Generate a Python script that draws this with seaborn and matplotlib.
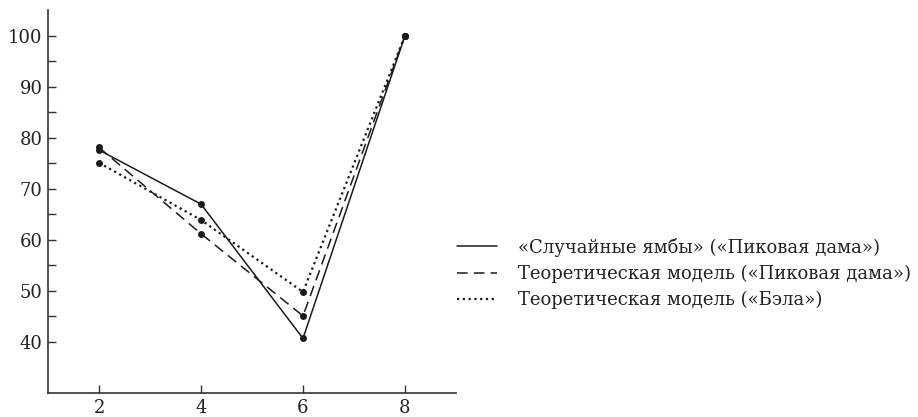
import matplotlib
matplotlib.use("Agg")
import matplotlib.pyplot as plt
from matplotlib.lines import Line2D
import seaborn as sns
import pandas as pd

sns.set_theme(style="ticks")
plt.rcParams["font.family"] = ["DejaVu Serif"]

positions = [2, 4, 6, 8]
random_iambs = [77.6, 67.0, 40.7, 100.0]
model_queen = [78.1, 61.2, 45.1, 100.0]
model_bela = [75.1, 63.9, 49.8, 100.0]

series_labels = [
    "«Случайные ямбы» («Пиковая дама»)",
    "Теоретическая модель («Пиковая дама»)",
    "Теоретическая модель («Бэла»)",
]
y_ticks = [40, 50, 60, 70, 80, 90, 100]
y_minor = [45, 55, 65, 75, 85, 95]

ink = "#1a1a1a"
fig = plt.figure(figsize=(9.18, 4.17), dpi=100)
ax = fig.add_axes([0.0523, 0.0576, 0.4444, 0.918])

styles = ["-", (0, (7, 4)), (0, (1, 1.6))]
widths = [1.1, 1.1, 1.6]
for vals, ls, lw in zip([random_iambs, model_queen, model_bela], styles, widths):
    df = pd.DataFrame({"x": positions, "y": vals})
    sns.lineplot(data=df, x="x", y="y", ax=ax, color=ink, linestyle=ls,
                 linewidth=lw, marker="o", markersize=5, markeredgewidth=0)

ax.set_xlim(1, 9)
ax.set_ylim(30, 105)
ax.set_xticks(positions)
ax.set_yticks(y_ticks)
ax.set_yticks(y_minor, minor=True)
ax.set_xlabel("")
ax.set_ylabel("")
for s in ["top", "right"]:
    ax.spines[s].set_visible(False)
for s in ["left", "bottom"]:
    ax.spines[s].set_color("#333333")
    ax.spines[s].set_linewidth(1.2)
ax.tick_params(axis="both", direction="in", length=6, width=1.0, color="#333333",
               labelsize=13, labelcolor="#222222", pad=4)
ax.tick_params(axis="y", which="minor", direction="in", length=6, width=1.0, color="#333333")

# legend keys: line styles only, no markers
handles = [Line2D([], [], color=ink, linestyle=ls, linewidth=lw)
           for ls, lw in zip(styles, widths)]
fig.legend(handles, series_labels, loc="center left", bbox_to_anchor=(0.498, 0.344),
           frameon=False, fontsize=13, handlelength=2.2, handletextpad=1.15,
           labelspacing=0.45, labelcolor="#222222", borderpad=0, borderaxespad=0)

fig.savefig("out.png", dpi=100)
